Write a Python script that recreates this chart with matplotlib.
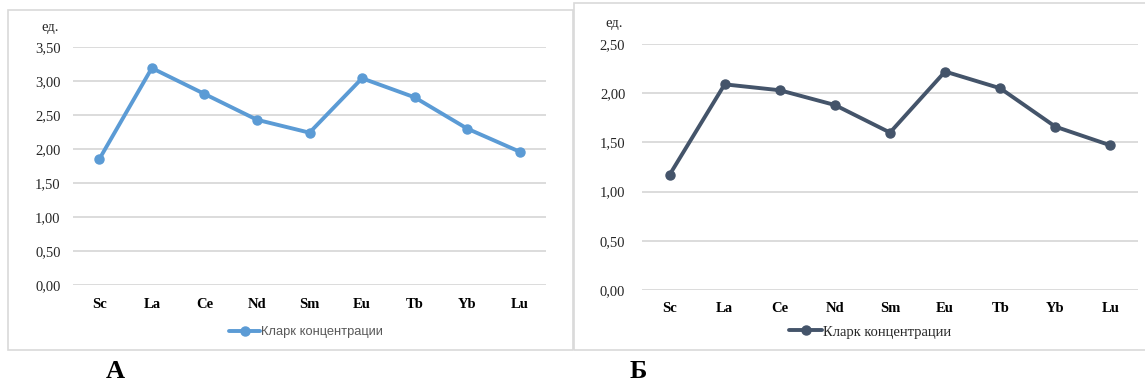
import matplotlib
matplotlib.use("Agg")
import matplotlib.pyplot as plt
from matplotlib.patches import Rectangle
from matplotlib.ticker import FuncFormatter

W, H = 1145, 385

elements = ["Sc", "La", "Ce", "Nd", "Sm", "Eu", "Tb", "Yb", "Lu"]
values_a = [1.85, 3.19, 2.81, 2.43, 2.24, 3.04, 2.76, 2.30, 1.96]
values_b = [1.17, 2.09, 2.03, 1.88, 1.60, 2.22, 2.05, 1.66, 1.47]
yticks_a = [0.0, 0.5, 1.0, 1.5, 2.0, 2.5, 3.0, 3.5]
yticks_b = [0.0, 0.5, 1.0, 1.5, 2.0, 2.5]
series_name = "Кларк концентрации"
unit_label = "ед."
panel_labels = ["А", "Б"]

color_a = "#5b9bd5"
color_b = "#44546a"
grid_c = "#d9d9d9"

fig = plt.figure(figsize=(W / 100, H / 100), dpi=100)
fig.patch.set_facecolor("white")

def fx(px):
    return px / W

def fy(py):
    return 1 - py / H

# chart frames
fig.add_artist(Rectangle((fx(8), fy(350)), fx(573) - fx(8), fy(10) - fy(350),
                         transform=fig.transFigure, fill=False, ec=grid_c, lw=1.2))
fig.add_artist(Rectangle((fx(574), fy(350)), fx(1160) - fx(574), fy(3) - fy(350),
                         transform=fig.transFigure, fill=False, ec=grid_c, lw=1.2))

serif = ["Liberation Serif", "DejaVu Serif"]
sans = ["Liberation Sans", "DejaVu Sans"]

fmt = FuncFormatter(lambda v, p: f"{v:.2f}".replace(".", ","))

def make_axes(rect_px, values, yticks, ymax, color, ypad, xpad):
    l, t, r, b = rect_px
    ax = fig.add_axes([fx(l), fy(b), fx(r) - fx(l), fy(t) - fy(b)])
    x = list(range(len(elements)))
    ax.plot(x, values, color=color, lw=2.8, marker="o", ms=6.5,
            solid_capstyle="round", solid_joinstyle="round", zorder=3,
            label=series_name)
    ax.set_xlim(-0.5, len(elements) - 0.5)
    ax.set_ylim(0, ymax)
    ax.set_yticks(yticks)
    ax.yaxis.set_major_formatter(fmt)
    ax.set_xticks(x)
    ax.set_xticklabels(elements, fontfamily=serif, fontweight="bold", fontsize=10.5)
    for lab in ax.get_yticklabels():
        lab.set_fontfamily(serif)
        lab.set_fontsize(10.5)
        lab.set_color("#262626")
    ax.tick_params(axis="both", length=0)
    ax.tick_params(axis="y", pad=ypad)
    ax.tick_params(axis="x", pad=xpad)
    ax.grid(axis="y", color=grid_c, lw=1.3)
    ax.set_axisbelow(True)
    for s in ax.spines.values():
        s.set_visible(False)
    ax.set_facecolor("none")
    return ax

ax_a = make_axes((73, 47, 546, 285), values_a, yticks_a, 3.5, color_a, 9, 9)
ax_b = make_axes((642, 44, 1138, 290), values_b, yticks_b, 2.5, color_b, 12, 9)

# unit labels
fig.text(fx(50), fy(28), unit_label, ha="center", va="center",
         fontfamily=serif, fontsize=10.5, color="#262626")
fig.text(fx(614), fy(24), unit_label, ha="center", va="center",
         fontfamily=serif, fontsize=10.5, color="#262626")

# legends
leg_a = ax_a.legend(loc="center", bbox_to_anchor=(fx(306), fy(332)),
                    bbox_transform=fig.transFigure, frameon=False,
                    handlelength=2.4, handletextpad=0.05,
                    prop={"family": sans, "size": 9.3})
for t in leg_a.get_texts():
    t.set_color("#595959")
leg_b = ax_b.legend(loc="center", bbox_to_anchor=(fx(870), fy(332)),
                    bbox_transform=fig.transFigure, frameon=False,
                    handlelength=2.3, handletextpad=0.05,
                    prop={"family": serif, "size": 10.5})
for t in leg_b.get_texts():
    t.set_color("#262626")

# panel letters
fig.text(fx(115), fy(372), panel_labels[0], ha="center", va="center",
         fontfamily=serif, fontweight="bold", fontsize=19)
fig.text(fx(638), fy(372), panel_labels[1], ha="center", va="center",
         fontfamily=serif, fontweight="bold", fontsize=19)

fig.savefig("out.png", dpi=100, facecolor="white")
